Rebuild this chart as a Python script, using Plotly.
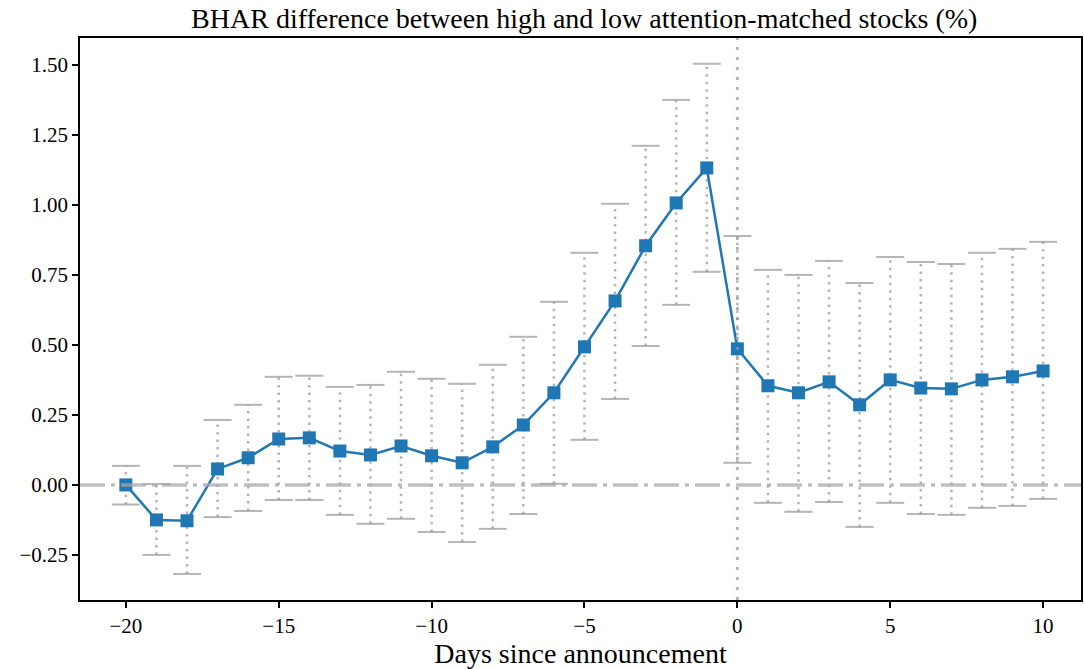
import plotly.graph_objects as go

days = list(range(-20, 11))
bhar = [0.000, -0.125, -0.128, 0.057, 0.097, 0.164, 0.168, 0.121, 0.107, 0.139,
        0.104, 0.079, 0.136, 0.214, 0.329, 0.493, 0.657, 0.854, 1.007, 1.132,
        0.486, 0.354, 0.329, 0.368, 0.286, 0.375, 0.346, 0.343, 0.375, 0.386, 0.407]
ci_high = [0.068, 0.003, 0.068, 0.232, 0.286, 0.386, 0.390, 0.350, 0.357, 0.404,
           0.379, 0.361, 0.429, 0.529, 0.654, 0.829, 1.004, 1.211, 1.375, 1.504,
           0.889, 0.768, 0.750, 0.800, 0.721, 0.814, 0.796, 0.789, 0.829, 0.843, 0.868]
ci_low = [-0.070, -0.250, -0.318, -0.115, -0.093, -0.054, -0.054, -0.107, -0.139, -0.121,
          -0.168, -0.204, -0.157, -0.104, 0.004, 0.161, 0.307, 0.496, 0.643, 0.761,
          0.079, -0.064, -0.096, -0.061, -0.150, -0.064, -0.104, -0.107, -0.082, -0.075, -0.050]

x_ticks = [-20, -15, -10, -5, 0, 5, 10]
y_ticks = [-0.25, 0.0, 0.25, 0.5, 0.75, 1.0, 1.25, 1.5]

FONT = "Liberation Serif"
err_color = "rgba(150,150,150,0.7)"

fig = go.Figure()

# dotted error bar stems
ex, ey = [], []
for d, lo, hi in zip(days, ci_low, ci_high):
    ex += [d, d, None]
    ey += [lo, hi, None]
fig.add_trace(go.Scatter(x=ex, y=ey, mode="lines",
                         line=dict(color=err_color, width=2.5, dash="2.5px,5px"),
                         hoverinfo="skip", showlegend=False))
# caps
fig.add_trace(go.Scatter(x=days + days, y=ci_low + ci_high, mode="markers",
                         marker=dict(symbol="line-ew", size=20,
                                     line=dict(color=err_color, width=2)),
                         hoverinfo="skip", showlegend=False))
# main series
fig.add_trace(go.Scatter(x=days, y=bhar, mode="lines+markers",
                         line=dict(color="#1f77b4", width=2.5),
                         marker=dict(symbol="square", size=13, color="#1f77b4"),
                         showlegend=False))

fig.add_hline(y=0, line=dict(color="rgba(170,170,170,0.75)", width=3.5,
                             dash="25px,6px,4px,6px"), layer="above")
fig.add_vline(x=0, line=dict(color="rgba(150,150,150,0.7)", width=3,
                             dash="3px,7px"), layer="above")

axis_common = dict(showline=True, linecolor="black", linewidth=1.5, mirror=True,
                   ticks="outside", ticklen=6, tickwidth=1.5, tickcolor="black",
                   showgrid=False, zeroline=False,
                   tickfont=dict(family=FONT, size=21, color="black"))

fig.update_layout(
    width=1084, height=669,
    margin=dict(l=80, r=1, t=38, b=69),
    paper_bgcolor="white", plot_bgcolor="white",
    title=dict(text="BHAR difference between high and low attention-matched stocks (%)",
               x=0.539, xanchor="center", y=0.973, yanchor="middle",
               font=dict(family=FONT, size=28, color="black")),
    xaxis=dict(range=[-21.5, 11.24], tickvals=x_ticks,
               title=dict(text="Days since announcement",
                          font=dict(family=FONT, size=28, color="black"), standoff=2),
               **axis_common),
    yaxis=dict(range=[-0.411, 1.596], tickvals=y_ticks, tickformat=".2f",
               **axis_common),
)

fig.write_html("out.html")
